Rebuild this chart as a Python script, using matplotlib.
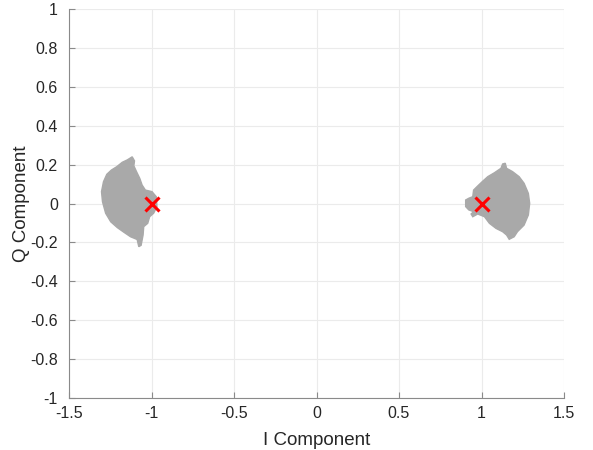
import matplotlib
matplotlib.use("Agg")
import matplotlib.pyplot as plt
from matplotlib.patches import Polygon

plt.rcParams['font.family'] = ['Liberation Sans', 'DejaVu Sans']

# Outline of the received-symbol cloud around -1
left_cloud_i = [-1.117, -1.103, -1.107, -1.091, -1.071, -1.057, -1.037, -0.997, -0.971, -0.967,
                -0.987, -1.011, -1.023, -1.047, -1.051, -1.063, -1.077, -1.087, -1.127, -1.167,
                -1.207, -1.247, -1.278, -1.297, -1.303, -1.291, -1.271, -1.243, -1.211, -1.177, -1.147]
left_cloud_q = [0.240, 0.219, 0.194, 0.164, 0.129, 0.095, 0.069, 0.061, 0.035, -0.016,
                -0.050, -0.068, -0.102, -0.119, -0.162, -0.215, -0.222, -0.185, -0.171, -0.148,
                -0.124, -0.094, -0.050, 0.009, 0.061, 0.112, 0.150, 0.172, 0.189, 0.212, 0.224]

# Outline of the received-symbol cloud around +1
right_cloud_i = [1.144, 1.152, 1.188, 1.228, 1.258, 1.284, 1.292, 1.284, 1.258, 1.218,
                 1.198, 1.168, 1.152, 1.128, 1.088, 1.048, 1.018, 0.977, 0.947, 0.937,
                 0.952, 0.923, 0.904, 0.904, 0.923, 0.947, 0.952, 0.972, 1.004, 1.038,
                 1.078, 1.118, 1.128]
right_cloud_q = [0.207, 0.181, 0.164, 0.138, 0.104, 0.052, 0.001, -0.059, -0.111, -0.145,
                 -0.171, -0.184, -0.162, -0.145, -0.128, -0.102, -0.068, -0.054, -0.068, -0.054,
                 -0.042, -0.033, -0.016, 0.018, 0.027, 0.035, 0.069, 0.086, 0.112, 0.138,
                 0.158, 0.181, 0.203]

# Ideal constellation points
ideal_i = [-1, 1]
ideal_q = [0, 0]

xticks = [-1.5, -1, -0.5, 0, 0.5, 1, 1.5]
xticklabels = ['-1.5', '-1', '-0.5', '0', '0.5', '1', '1.5']
yticks = [-1, -0.8, -0.6, -0.4, -0.2, 0, 0.2, 0.4, 0.6, 0.8, 1]
yticklabels = ['-1', '-0.8', '-0.6', '-0.4', '-0.2', '0', '0.2', '0.4', '0.6', '0.8', '1']

fig = plt.figure(figsize=(5.93, 4.5), dpi=100)
ax = fig.add_axes([69/593, 52/450, 495/593, 389/450])

cloud_color = '#a9a9a9'
for ci, cq in [(left_cloud_i, left_cloud_q), (right_cloud_i, right_cloud_q)]:
    ax.add_patch(Polygon(list(zip(ci, cq)), closed=True, facecolor=cloud_color,
                         edgecolor=cloud_color, linewidth=1.0, zorder=2))

ax.plot(ideal_i, ideal_q, linestyle='none', marker='x', color='#ff0000',
        markersize=10, markeredgewidth=2.2, zorder=3)

ax.set_xlim(-1.5, 1.5)
ax.set_ylim(-1, 1)
ax.set_xticks(xticks)
ax.set_xticklabels(xticklabels)
ax.set_yticks(yticks)
ax.set_yticklabels(yticklabels)

ax.grid(True, color='#ebebeb', linewidth=0.8, zorder=0)
ax.set_axisbelow(True)
for s in ['top', 'right']:
    ax.spines[s].set_visible(False)
for s in ['left', 'bottom']:
    ax.spines[s].set_color('#8a8a8a')
    ax.spines[s].set_linewidth(0.8)
ax.tick_params(axis='both', direction='in', length=4, color='#8a8a8a',
               labelsize=11.5, labelcolor='#262626')
ax.tick_params(axis='x', pad=6)
ax.tick_params(axis='y', pad=8)

ax.set_xlabel('I Component', fontsize=13.5, color='#262626', labelpad=8)
ax.set_ylabel('Q Component', fontsize=13.5, color='#262626', labelpad=0)

fig.savefig('out.png', dpi=100)
